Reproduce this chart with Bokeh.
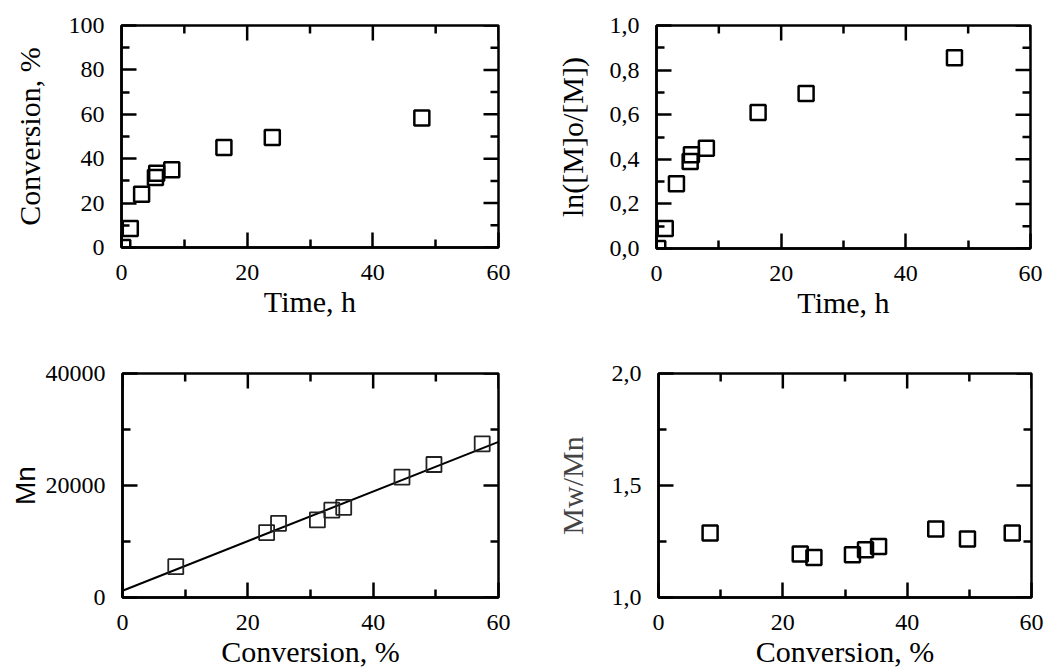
import math
from bokeh.plotting import figure
from bokeh.layouts import column, row
from bokeh.models import LinearAxis, FixedTicker, Range1d
from bokeh.embed import file_html
from bokeh.resources import INLINE

# ---- data ----
time_h = [0.2, 1.4, 3.2, 5.4, 5.6, 8.0, 16.3, 24.0, 47.8]
conversion_pct = [0.0, 8.6, 24.0, 31.5, 33.5, 35.0, 45.1, 49.6, 58.3]
ln_m0_m = [0.0, 0.09, 0.29, 0.39, 0.42, 0.45, 0.61, 0.695, 0.855]

conv_mn = [8.5, 23.0, 24.9, 31.1, 33.4, 35.3, 44.6, 49.7, 57.4]
mn_values = [5500, 11600, 13250, 13850, 15600, 16100, 21500, 23750, 27450]
fit_conv = [0, 60]
fit_mn = [1200, 27800]

conv_pdi = [8.3, 22.8, 25.0, 31.2, 33.3, 35.4, 44.6, 49.7, 56.9]
pdi_values = [1.288, 1.194, 1.179, 1.191, 1.213, 1.228, 1.306, 1.261, 1.288]

x_major = [0, 20, 40, 60]
x_minor = [10, 30, 50]

SERIF = "Liberation Serif"
TICK_FS = "24px"
LABEL_FS = "30px"
MAJOR_LEN = 15
MINOR_LEN = 8


def make_fig(w, h, left, top, fw, fh, y_range, y_major, y_minor, y_labels,
             xlabel, ylabel, ylabel_font=SERIF, ylabel_color="black",
             ylabel_fs=LABEL_FS, ylabel_standoff=22):
    right = w - left - fw
    bottom = h - top - fh
    x0, x1 = 0, 60
    y0, y1 = y_range
    p = figure(frame_width=fw, frame_height=fh, output_backend="svg",
               toolbar_location=None, x_range=Range1d(x0, x1),
               y_range=Range1d(y0, y1), x_axis_type=None, y_axis_type=None,
               min_border_left=left, min_border_top=top,
               min_border_right=right, min_border_bottom=bottom)
    p.grid.visible = False
    p.outline_line_color = "black"
    p.outline_line_width = 2.5
    p.background_fill_color = "white"
    p.border_fill_color = "white"

    def style(ax):
        ax.axis_line_color = "black"
        ax.axis_line_width = 2.5
        ax.major_tick_in = MAJOR_LEN
        ax.major_tick_out = 0
        ax.minor_tick_in = MINOR_LEN
        ax.minor_tick_out = 0
        ax.major_tick_line_color = "black"
        ax.major_tick_line_width = 2.5
        ax.minor_tick_line_color = "black"
        ax.minor_tick_line_width = 2.5
        ax.major_label_text_font = SERIF
        ax.major_label_text_font_size = TICK_FS
        ax.major_label_text_color = "black"
        ax.major_label_standoff = 17
        ax.axis_label_text_font = SERIF
        ax.axis_label_text_font_size = LABEL_FS
        ax.axis_label_text_font_style = "normal"
        ax.axis_label_text_color = "black"

    xb = LinearAxis(ticker=FixedTicker(ticks=x_major, minor_ticks=x_minor),
                    axis_label=xlabel)
    style(xb)
    xb.axis_label_standoff = 2
    p.add_layout(xb, "below")

    yl = LinearAxis(ticker=FixedTicker(ticks=y_major, minor_ticks=y_minor),
                    axis_label=ylabel)
    style(yl)
    yl.major_label_overrides = y_labels
    yl.axis_label_standoff = ylabel_standoff
    yl.axis_label_text_font = ylabel_font
    yl.axis_label_text_color = ylabel_color
    yl.axis_label_text_font_size = ylabel_fs
    p.add_layout(yl, "left")

    # inward ticks on the top and right edges: dash markers centred on the
    # frame edge; the outer half is clipped away by the frame
    for ticks, length in ((x_major, MAJOR_LEN), (x_minor, MINOR_LEN)):
        p.scatter(ticks, [y1] * len(ticks), marker="dash", size=2 * length,
                  angle=math.pi / 2, line_color="black", line_width=2.5)
    for ticks, length in ((y_major, MAJOR_LEN), (y_minor, MINOR_LEN)):
        p.scatter([x1] * len(ticks), ticks, marker="dash", size=2 * length,
                  line_color="black", line_width=2.5)
    return p


# Panel 1: Conversion vs time
p1 = make_fig(530, 335, 121, 25, 377, 222, (0, 100),
              [0, 20, 40, 60, 80, 100], [10, 30, 50, 70, 90], {},
              "Time, h", "Conversion, %", ylabel_standoff=20)
p1.scatter(time_h, conversion_pct, marker="square", size=15,
           fill_color=None, line_color="black", line_width=2.5)

# Panel 2: ln([M]o/[M]) vs time
p2 = make_fig(517, 335, 126, 24, 374, 223, (0, 1.0),
              [0, 0.2, 0.4, 0.6, 0.8, 1.0], [0.1, 0.3, 0.5, 0.7, 0.9],
              {0: "0,0", 0.2: "0,2", 0.4: "0,4", 0.6: "0,6", 0.8: "0,8", 1.0: "1,0"},
              "Time, h", "ln([M]o/[M])", ylabel_standoff=18)
p2.scatter(time_h, ln_m0_m, marker="square", size=15,
           fill_color=None, line_color="black", line_width=2.5)

# Panel 3: Mn vs conversion
p3 = make_fig(530, 336, 122, 38, 376, 224, (0, 40000),
              [0, 20000, 40000], [10000, 30000], {},
              "Conversion, %", "Mn", ylabel_font="Liberation Sans",
              ylabel_fs="28px", ylabel_standoff=2)
p3.line(fit_conv, fit_mn, line_color="black", line_width=2)
p3.scatter(conv_mn, mn_values, marker="square", size=15,
           fill_color=None, line_color="#222222", line_width=1.8)

# Panel 4: Mw/Mn vs conversion
p4 = make_fig(517, 336, 128, 38, 373, 224, (1.0, 2.0),
              [1.0, 1.5, 2.0], [1.25, 1.75],
              {1.0: "1,0", 1.5: "1,5", 2.0: "2,0"},
              "Conversion, %", "Mw/Mn", ylabel_color="#444444",
              ylabel_standoff=20)
p4.scatter(conv_pdi, pdi_values, marker="square", size=15,
           fill_color=None, line_color="black", line_width=2.5)

layout = column(row(p1, p2), row(p3, p4))
open("out.html", "w").write(file_html(layout, INLINE))
